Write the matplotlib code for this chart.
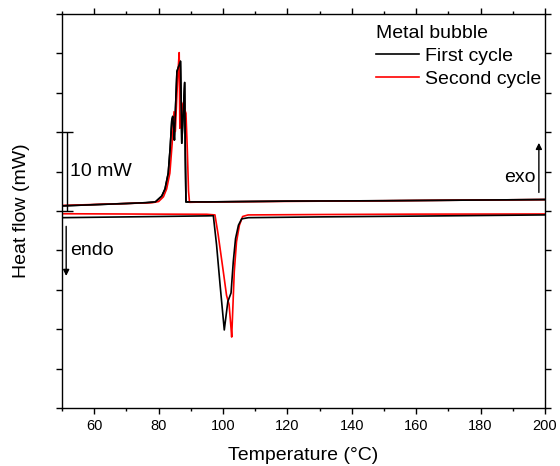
import matplotlib
matplotlib.use('Agg')
import matplotlib.pyplot as plt
from matplotlib.ticker import MultipleLocator

plt.rcParams['font.family'] = ['Liberation Sans', 'DejaVu Sans']

# exo peak (cooling), first cycle
t_exo_1 = [50, 60, 70, 76, 79, 81, 82, 83, 83.6, 84.1, 84.4, 84.7, 84.9, 85.3, 85.7,
           86.2, 86.8, 87.0, 87.2, 87.6, 88.1, 88.3, 88.5, 95, 120, 150, 200]
q_exo_1 = [0.65, 0.8, 0.95, 1.05, 1.15, 1.9, 2.8, 4.8, 8.0, 11.5, 12.0, 10.5, 9.0, 13.5, 17.7,
           18.3, 19.0, 14.0, 8.6, 12.0, 16.3, 7.0, 1.15, 1.15, 1.25, 1.3, 1.45]

# exo peak (cooling), second cycle
t_exo_2 = [50, 70, 78, 80, 81.5, 82.5, 83.5, 84.2, 84.8, 85.2, 85.6, 86.0, 86.4, 86.6,
           87.0, 87.6, 88.0, 88.5, 88.9, 89.3, 89.6, 95, 150, 200]
q_exo_2 = [0.7, 0.95, 1.05, 1.2, 1.8, 2.8, 4.8, 8.5, 12.6, 10.1, 14.0, 17.5, 20.1, 10.5,
           12.0, 13.7, 13.0, 12.4, 8.0, 2.5, 1.1, 1.15, 1.3, 1.45]

# endo peak (heating), first cycle
t_endo_1 = [50, 80, 95, 97.0, 98.0, 99.1, 100.4, 101.5, 102.5, 103.2, 103.9, 104.8,
            105.8, 107.9, 130, 160, 200]
q_endo_1 = [-0.85, -0.7, -0.62, -0.6, -4.3, -9.4, -15.1, -11.5, -10.4, -6.4, -3.5, -1.8,
            -1.0, -0.85, -0.75, -0.65, -0.5]

# endo peak (heating), second cycle
t_endo_2 = [50, 80, 95, 97.5, 98.5, 100.1, 101.1, 101.9, 102.5, 102.7, 103.1, 103.5,
            104.2, 105.1, 106.1, 107.8, 130, 160, 200]
q_endo_2 = [-0.35, -0.4, -0.42, -0.5, -3.0, -7.7, -10.7, -11.9, -14.9, -16.0, -11.9, -7.7,
            -3.9, -1.8, -0.7, -0.5, -0.45, -0.4, -0.38]

fig = plt.figure(figsize=(5.6, 4.66), dpi=100)
ax = fig.add_axes([0.1107, 0.1245, 0.8625, 0.8455])

ax.plot(t_exo_1, q_exo_1, color='black', lw=1.2, label='First cycle')
ax.plot(t_exo_2, q_exo_2, color='red', lw=1.2, label='Second cycle')
ax.plot(t_endo_2, q_endo_2, color='red', lw=1.2)
ax.plot(t_endo_1, q_endo_1, color='black', lw=1.2)
ax.plot(t_exo_1, q_exo_1, color='black', lw=1.2)

ax.set_xlim(50, 200)
ax.set_ylim(-25, 25)
ax.xaxis.set_major_locator(MultipleLocator(20))
ax.xaxis.set_minor_locator(MultipleLocator(10))
ax.yaxis.set_major_locator(MultipleLocator(5))
ax.set_yticklabels([])
ax.tick_params(which='major', direction='out', length=4.5, width=1, labelsize=10.5, pad=3.5,
               top=True, right=True)
ax.tick_params(which='minor', direction='out', length=2.5, width=1, top=True)
ax.tick_params(axis='y', which='minor', left=False, right=False)
for s in ax.spines.values():
    s.set_linewidth(1.0)

ax.set_xlabel('Temperature (\u00b0C)', fontsize=14, labelpad=10)
ax.set_ylabel('Heat flow (mW)', fontsize=14, labelpad=15)

# 10 mW scale bar
ax.errorbar([51.55], [5], yerr=[5], color='black', lw=1, capsize=4, capthick=1)
ax.text(52.5, 5, '10 mW', fontsize=14, va='center', ha='left')

# endo / exo arrows
ax.annotate('', xy=(51.3, -8.6), xytext=(51.3, -1.6),
            arrowprops=dict(arrowstyle='-|>', color='black', lw=1, mutation_scale=9))
ax.text(52.5, -5.0, 'endo', fontsize=14, va='center', ha='left')
ax.annotate('', xy=(198.1, 9.0), xytext=(198.1, 2.0),
            arrowprops=dict(arrowstyle='-|>', color='black', lw=1, mutation_scale=9))
ax.text(197.2, 4.3, 'exo', fontsize=14, va='center', ha='right')

ax.legend(title='Metal bubble', loc='upper right', bbox_to_anchor=(0.996, 0.977),
          frameon=False, fontsize=14, title_fontsize=14, alignment='left',
          handlelength=2.2, handletextpad=0.3, labelspacing=0.27,
          borderaxespad=0, borderpad=0.1)

plt.savefig('out.png', dpi=100)
